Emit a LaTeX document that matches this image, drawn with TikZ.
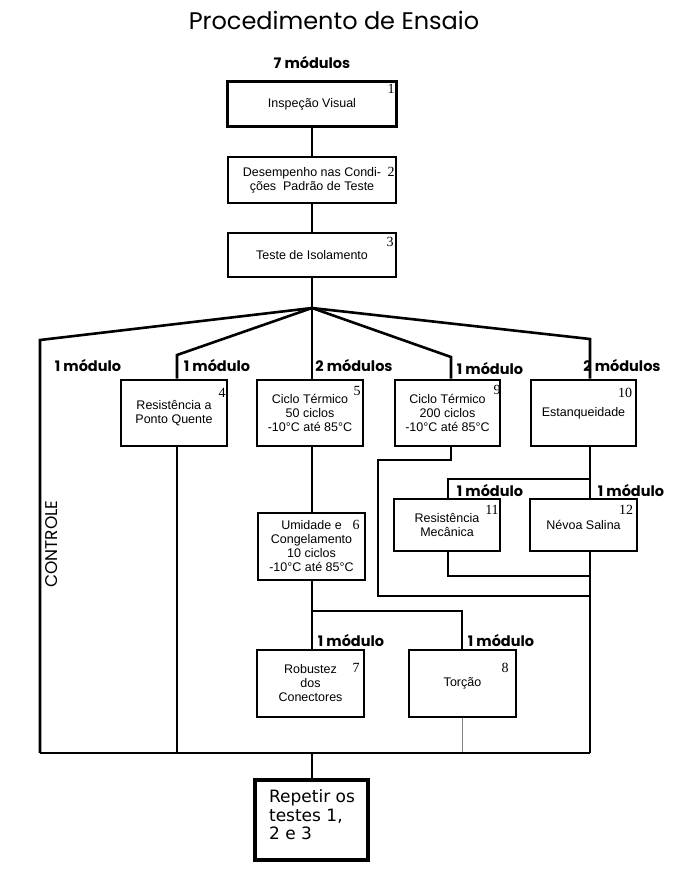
\documentclass[tikz,border=0pt]{standalone}
\usepackage{fontspec}
\setmainfont{Liberation Sans}
\newfontfamily\gothic{Poppins}
\newfontfamily\numfont{Liberation Serif}
\newfontfamily\verd{DejaVu Sans}

\begin{document}
\begin{tikzpicture}[x=1pt, y=-1pt,
    box/.style 2 args={draw, line width=2.6pt, minimum width=#1pt, minimum height=#2pt,
        inner sep=1pt, align=center, font=\fontsize{12.5}{14}\selectfont},
    wire/.style={line width=2.6pt},
    num/.style={inner sep=0pt, font=\numfont\fontsize{14}{14}\selectfont},
    mod/.style={inner sep=0pt, font=\gothic\bfseries\fontsize{14.5}{14.5}\selectfont}]

    % Define parameters
    \def\xc{312}   % main column
    \def\ybot{753} % collecting line

    \useasboundingbox (0,0) rectangle (687,873);

    % title
    \node[font=\gothic\fontsize{24}{24}\selectfont] (title) at (334,20) {Procedimento de Ensaio};
    \node[mod] (m1) at (\xc,63) {7 módulos};

    % first column
    \node[box={169}{45}, line width=3.4pt] (b1) at (\xc,104) {Inspeção Visual};
    \node[box={168}{46}] (b2) at (\xc,180) {Desempenho nas Condi-\\ções\ \ Padrão de Teste};
    \node[box={168}{44}] (b3) at (\xc,255) {Teste de Isolamento};

    % second row
    \node[box={106}{66}] (b4) at (174,413) {Resistência a\\Ponto Quente};
    \node[box={106}{66}] (b5) at (310,413) {Ciclo Térmico\\50 ciclos\\-10°C até 85°C};
    \node[box={105}{66}] (b9) at (447.5,413) {Ciclo Térmico\\200 ciclos\\-10°C até 85°C};
    \node[box={105}{66}] (b10) at (583.5,413) {Estanqueidade};

    % lower boxes
    \node[box={107}{67}] (b6) at (311.5,546.5) {Umidade e\\Congelamento\\10 ciclos\\-10°C até 85°C};
    \node[box={106}{52}] (b11) at (447,525) {Resistência\\Mecânica};
    \node[box={107}{52}] (b12) at (583.5,525) {Névoa Salina};
    \node[box={107}{67}] (b7) at (310.5,683.5) {Robustez\\dos\\Conectores};
    \node[box={107}{67}] (b8) at (462.5,683.5) {Torção};
    \node[box={113}{80}, line width=3.6pt] (b13) at (311.5,820) {};
    \node[align=left, inner sep=0pt, font=\verd\fontsize{17}{18.5}\selectfont]
        (t13) at (312,815) {Repetir os\\testes 1,\\2 e 3};

    % numbers
    \node[num] (n1) at (391,89) {1};
    \node[num] (n2) at (391,172) {2};
    \node[num] (n3) at (390,242) {3};
    \node[num] (n4) at (222,393) {4};
    \node[num] (n5) at (357,391) {5};
    \node[num] (n9) at (497,390) {9};
    \node[num] (n10) at (625,393) {10};
    \node[num] (n6) at (356,525) {6};
    \node[num] (n11) at (492,510) {11};
    \node[num] (n12) at (626,510) {12};
    \node[num] (n7) at (356,668) {7};
    \node[num] (n8) at (505,668) {8};

    % module labels
    \node[mod] (m2) at (88,366) {1 módulo};
    \node[mod] (m3) at (217,366) {1 módulo};
    \node[mod] (m4) at (354,366) {2 módulos};
    \node[mod] (m5) at (490,369) {1 módulo};
    \node[mod] (m6) at (622,366) {2 módulos};
    \node[mod] (m7) at (490,491) {1 módulo};
    \node[mod] (m8) at (631,491) {1 módulo};
    \node[mod] (m9) at (351,641) {1 módulo};
    \node[mod] (m10) at (501,641) {1 módulo};
    \node[rotate=90, font=\gothic\fontsize{17}{17}\selectfont] (ctl) at (52,544) {CONTROLE};

    % junctions
    \coordinate (fan) at (\xc,308);
    \coordinate (kl) at (40,340);
    \coordinate (k4) at (177,355);
    \coordinate (k9) at (451,357);
    \coordinate (k10) at (590,339);
    \coordinate (bl) at (40,\ybot);
    \coordinate (br) at (590,\ybot);
    \coordinate (s6) at (\xc,611);
    \coordinate (k8) at (462,611);
    \coordinate (r9) at (378,460);
    \coordinate (j9) at (590,596);
    \coordinate (s10) at (590,479);
    \coordinate (k11) at (448,576);

    % top column
    \draw[wire] (b1) -- (b2);
    \draw[wire] (b2) -- (b3);
    \draw[wire] (b3) -- (fan);

    % fan out
    \draw[wire] (fan) -- (kl) -- (bl);
    \draw[wire] (fan) -- (k4) -- (k4 |- b4.north);
    \draw[wire] (fan) -- (fan |- b5.north);
    \draw[wire] (fan) -- (k9) -- (k9 |- b9.north);
    \draw[wire] (fan) -- (k10) -- (k10 |- b10.north);

    % branches
    \draw[wire] (k4 |- b4.south) -- (k4 |- bl);
    \draw[wire] (fan |- b5.south) -- (fan |- b6.north);
    \draw[wire] (fan |- b6.south) -- (s6) -- (fan |- b7.north);
    \draw[wire] (s6) -- (k8) -- (k8 |- b8.north);
    \draw[thin, gray] (k8 |- b8.south) -- (k8 |- bl);
    \draw[wire] (k9 |- b9.south) -- (k9 |- r9) -- (r9) -- (r9 |- j9) -- (j9);
    \draw[wire] (k10 |- b10.south) -- (k10 |- b12.north);
    \draw[wire] (s10) -- (k11 |- s10) -- (k11 |- b11.north);
    \draw[wire] (k11 |- b11.south) -- (k11) -- (k10 |- k11);
    \draw[wire] (k10 |- b12.south) -- (br);

    % collecting line
    \draw[wire] (bl) -- (br);
    \draw[wire] (fan |- bl) -- (fan |- b13.north);

\end{tikzpicture}
\end{document}
